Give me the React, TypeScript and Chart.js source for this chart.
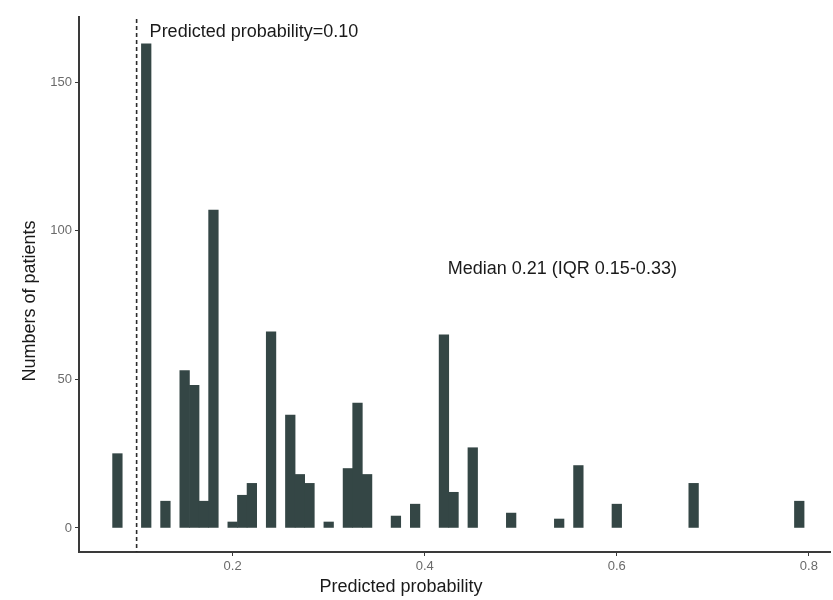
import { useEffect, useRef } from "react";
import { Chart, registerables } from "chart.js";

Chart.register(...registerables);

// Histogram of predicted probabilities (bin width 0.01, bins given by centre)
const binCentres = [
  0.08, 0.11, 0.13, 0.15, 0.16, 0.17, 0.18, 0.2, 0.21, 0.22, 0.24, 0.26, 0.27,
  0.28, 0.3, 0.32, 0.33, 0.34, 0.37, 0.39, 0.42, 0.43, 0.45, 0.49, 0.54, 0.56,
  0.6, 0.68, 0.79,
];
const patientCounts = [
  25, 163, 9, 53, 48, 9, 107, 2, 11, 15, 66, 38, 18, 15, 2, 20, 42, 18, 4, 8,
  65, 12, 27, 5, 3, 21, 8, 15, 9,
];

const xTickValues = [0.2, 0.4, 0.6, 0.8];
const yTickValues = [0, 50, 100, 150];

const thresholdValue = 0.1;
const thresholdLabel = "Predicted probability=0.10";
const medianLabel = "Median 0.21 (IQR 0.15-0.33)";
const xTitle = "Predicted probability";
const yTitle = "Numbers of patients";

const FONT = '"Liberation Sans", Arial, Helvetica, sans-serif';
const BAR_COLOR = "#344645";
const AXIS_COLOR = "#3a3a3a";
const TICK_LABEL_COLOR = "#6a6a6a";

// Threshold line, annotation texts and axis titles
const annotationPlugin = {
  id: "thresholdAnnotations",
  afterDraw(chart: any) {
    const { ctx, chartArea, scales } = chart;
    const xs = scales.x;
    const ys = scales.y;
    const lineX = xs.getPixelForValue(thresholdValue);

    ctx.save();
    ctx.strokeStyle = "#2b2b2b";
    ctx.lineWidth = 1.6;
    ctx.setLineDash([4, 3]);
    ctx.beginPath();
    ctx.moveTo(lineX, chartArea.top + 2);
    ctx.lineTo(lineX, chartArea.bottom);
    ctx.stroke();
    ctx.setLineDash([]);

    ctx.fillStyle = "#1a1a1a";
    ctx.font = `18px ${FONT}`;
    ctx.textAlign = "left";
    ctx.textBaseline = "middle";
    ctx.fillText(thresholdLabel, lineX + 13, ys.getPixelForValue(167));
    ctx.fillText(medianLabel, xs.getPixelForValue(0.424), ys.getPixelForValue(87));

    ctx.textAlign = "center";
    ctx.fillText(xTitle, 401, 587);
    ctx.translate(30, 301);
    ctx.rotate(-Math.PI / 2);
    ctx.fillText(yTitle, 0, 0);
    ctx.restore();
  },
};

export default function App() {
  const canvasRef = useRef<HTMLCanvasElement | null>(null);

  useEffect(() => {
    if (!canvasRef.current) return;
    const chart = new Chart(canvasRef.current, {
      type: "bar",
      data: {
        datasets: [
          {
            data: binCentres.map((x, i) => ({ x, y: patientCounts[i] })),
            backgroundColor: BAR_COLOR,
            borderWidth: 0,
            barPercentage: 1,
            categoryPercentage: 1,
          },
        ],
      },
      options: {
        animation: false,
        responsive: true,
        maintainAspectRatio: false,
        layout: { padding: { top: 17, right: 3, left: 0, bottom: 0 } },
        plugins: {
          legend: { display: false },
          tooltip: { enabled: false },
        },
        scales: {
          x: {
            type: "linear",
            offset: false,
            min: 0.04,
            max: 0.822,
            afterBuildTicks: (scale: any) => {
              scale.ticks = xTickValues.map((value) => ({ value }));
            },
            afterFit: (scale: any) => {
              scale.height = 48;
            },
            ticks: {
              callback: (v: any) => Number(v).toFixed(1),
              color: TICK_LABEL_COLOR,
              font: { family: FONT, size: 13 },
              padding: 3,
              maxRotation: 0,
            },
            grid: {
              offset: false,
              drawOnChartArea: false,
              drawTicks: true,
              tickLength: 4,
              color: AXIS_COLOR,
            },
            border: { display: true, color: AXIS_COLOR, width: 2 },
            title: { display: false },
          },
          y: {
            type: "linear",
            min: -8.1,
            max: 172,
            afterBuildTicks: (scale: any) => {
              scale.ticks = yTickValues.map((value) => ({ value }));
            },
            afterFit: (scale: any) => {
              scale.width = 79;
            },
            ticks: {
              color: TICK_LABEL_COLOR,
              font: { family: FONT, size: 13 },
              padding: 3,
            },
            grid: {
              drawOnChartArea: false,
              drawTicks: true,
              tickLength: 4,
              color: AXIS_COLOR,
            },
            border: { display: true, color: AXIS_COLOR, width: 2 },
            title: { display: false },
          },
        },
      },
      plugins: [annotationPlugin],
    });
    return () => chart.destroy();
  }, []);

  return (
    <div
      style={{
        position: "fixed",
        left: 0,
        top: 0,
        width: 833,
        height: 600,
        background: "#ffffff",
      }}
    >
      <canvas ref={canvasRef} />
    </div>
  );
}
